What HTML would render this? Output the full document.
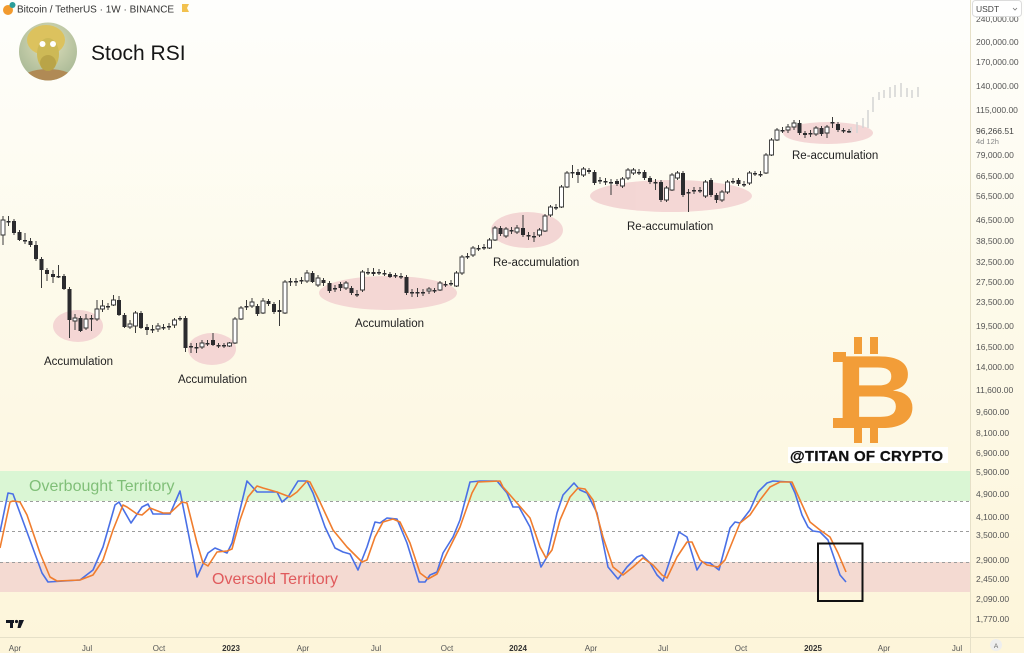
<!DOCTYPE html>
<html>
<head>
<meta charset="utf-8">
<style>
html,body{margin:0;padding:0;background:#fdf9e8;}
body{width:1024px;height:653px;overflow:hidden;}
svg{display:block;}
text{font-family:"Liberation Sans",Arial,sans-serif;}
</style>
</head>
<body>
<svg width="1024" height="653" viewBox="0 0 1024 653" xmlns="http://www.w3.org/2000/svg">
<defs>
<linearGradient id="bg" x1="0" y1="0" x2="0" y2="1">
<stop offset="0" stop-color="#fefefc"/>
<stop offset="0.45" stop-color="#fdfaea"/>
<stop offset="1" stop-color="#fdf5da"/>
</linearGradient>
<clipPath id="av"><circle cx="48" cy="51.5" r="29"/></clipPath>
<radialGradient id="avbg" cx="0.5" cy="0.35" r="0.7">
<stop offset="0" stop-color="#dfe0bc"/>
<stop offset="1" stop-color="#a4b592"/>
</radialGradient>
</defs>

<!-- background -->
<rect x="0" y="0" width="1024" height="653" fill="url(#bg)"/>

<!-- header -->
<circle cx="8" cy="10" r="5" fill="#f29a2e"/>
<circle cx="12.5" cy="5" r="3" fill="#2a9d9a"/>
<text x="17" y="12.5" font-size="10" fill="#333">Bitcoin / TetherUS · 1W · BINANCE</text>
<path d="M182 4h7l-2 4 2 4h-7z" fill="#f2c14e"/>

<!-- avatar -->
<g clip-path="url(#av)">
<rect x="19" y="22" width="58" height="60" fill="url(#avbg)"/>
<ellipse cx="46" cy="40" rx="19" ry="15" fill="#dcc25e"/>
<ellipse cx="48" cy="81" rx="28" ry="12" fill="#b08a55"/>
<ellipse cx="48" cy="54" rx="11" ry="16" fill="#cdb956"/>
<ellipse cx="48" cy="63" rx="8" ry="8" fill="#b9a448"/>
<circle cx="42.5" cy="44" r="3" fill="#ffffff"/>
<circle cx="53" cy="44" r="3" fill="#ffffff"/>
</g>
<text x="91" y="60" font-size="21" fill="#161616">Stoch RSI</text>

<!-- ellipses -->
<g fill="#f2d0d0" opacity="0.85">
<ellipse cx="78" cy="326" rx="25" ry="16"/>
<ellipse cx="212" cy="349" rx="24" ry="16"/>
<ellipse cx="388" cy="293" rx="69" ry="17"/>
<ellipse cx="527" cy="230" rx="36" ry="18"/>
<ellipse cx="671" cy="196" rx="81" ry="16"/>
<ellipse cx="828" cy="133" rx="45" ry="11"/>
</g>

<!-- faded projection -->
<path stroke="#d6d6d6" stroke-width="1.6" fill="none" d="M851 127V133M857 122V133M863 118V128M868 110V128M873 97V112M879 92V100M884 90V98M890 87V98M895 85V97M901 83V97M907 88V97M912 90V98M918 87V97"/>

<!-- wicks -->
<path stroke="#3a3a3a" stroke-width="1" fill="none" d="M3 216V245M8.5 216V226M14 219V235M19.5 230V241M25 233V244M30.5 238V247M36 241V261M41.5 257V288M47 268V281M53 270V283M58.5 265V278M64 274V290M69.5 287V338M75 314V330M80.5 316V332M86 314V330M91.5 315V331M97 300V321M102.5 300V312M108 303V310M113.5 295V306M119 296V316M124.5 313V328M130 320V329M135.5 311V333M141 311V329M147 324V335M152.5 325V333M158 323V332M163.5 324V330M169 323V330M174.5 318V328M180 316V321M185.5 316V352M191 343V353M196.5 343V353M202 340V349M207.5 340V346M213 333V346M218.5 343V348M224 343V348M229.5 342V347M235 317V344M241 306V320M246.5 300V310M252 298V308M257.5 304V316M263 298V314M268.5 299V306M274 302V314M279.5 300V326M285 280V314M290.5 278V286M296 278V286M301.5 277V284M307 270V283M312.5 271V283M318 275V287M323.5 278V286M329.5 281V293M335 285V292M340.5 282V291M346 281V290M351.5 286V295M357 290V297M362.5 270V292M368 268V275M373.5 268V276M379 269V275M384.5 270V276M390 272V278M395.5 273V278M401 273V279M406.5 275V295M412 289V297M417.5 288V297M423 289V296M429 287V294M434.5 288V293M440 281V291M445.5 281V287M451 280V286M456.5 271V287M462 255V275M467.5 253V259M473 246V257M478.5 245V251M484 244V250M489.5 238V249M495 226V241M500.5 226V236M506 227V238M511.5 227V234M517 225V234M523 215V237M528.5 232V240M534 232V242M539.5 228V237M545 214V232M550.5 205V217M556 204V210M561.5 185V208M567 171V188M572.5 165V178M578 169V183M583.5 167V177M589 168V174M594.5 170V185M600 177V184M605.5 178V185M611 179V195M617 179V186M622.5 177V188M628 168V180M633.5 168V175M639 169V175M644.5 170V180M650 176V184M655.5 179V190M661 180V202M666.5 186V202M672 173V191M677.5 171V180M683 171V197M688.5 189V212M694 187V194M700 187V193M705.5 180V198M711 178V197M716.5 193V203M722 190V202M727.5 180V194M733 178V184M738.5 178V186M744 181V187M749.5 171V185M755 171V176M760.5 171V177M766 153V174M771.5 138V156M777 128V141M782.5 127V133M788 124V133M794 120V130M799.5 120V135M805 131V138M810.5 130V137M816 126V136M821.5 126V136M827 125V138M832.5 117V128M838 122V132M843.5 128V133M849 129V133"/>

<!-- white bodies -->
<path fill="#ffffff" stroke="#333" stroke-width="0.9" d="M1 220h4v15h-4zM73 318h4v3h-4zM84 319h4v9h-4zM95 309h4v10h-4zM100.5 306h4v3h-4zM111.5 300h4v5h-4zM128 324h4v3h-4zM133.5 313h4v13h-4zM156 326h4v3h-4zM172.5 320h4v5h-4zM200 343h4v4h-4zM227.5 343h4v3h-4zM233 319h4v24h-4zM239 308h4v11h-4zM250 302h4v4h-4zM261 301h4v12h-4zM283 282h4v31h-4zM305 273h4v8h-4zM316 278h4v7h-4zM344 283h4v5h-4zM360.5 272h4v18h-4zM427 289h4v2h-4zM438 283h4v7h-4zM454.5 273h4v13h-4zM460 257h4v16h-4zM471 248h4v7h-4zM487.5 240h4v8h-4zM493 228h4v12h-4zM504 229h4v7h-4zM515 228h4v4h-4zM537.5 230h4v5h-4zM543 216h4v15h-4zM548.5 207h4v8h-4zM559.5 187h4v20h-4zM565 173h4v14h-4zM581.5 169h4v6h-4zM620.5 179h4v7h-4zM626 170h4v8h-4zM631.5 170h4v3h-4zM664.5 188h4v12h-4zM670 175h4v15h-4zM675.5 173h4v5h-4zM703.5 182h4v14h-4zM720 192h4v8h-4zM725.5 182h4v10h-4zM747.5 173h4v10h-4zM764 155h4v18h-4zM769.5 140h4v15h-4zM775 130h4v10h-4zM786 127h4v3h-4zM792 123h4v4h-4zM814 128h4v6h-4zM825 127h4v6h-4z"/>

<!-- black bodies -->
<path fill="#2b2b2e" d="M12 221h4v12h-4zM17.5 232h4v8h-4zM28.5 241h4v4h-4zM34 245h4v14h-4zM39.5 259h4v11h-4zM45 270h4v4h-4zM51 274h4v3h-4zM62 276h4v13h-4zM67.5 289h4v31h-4zM78.5 318h4v13h-4zM117 300h4v15h-4zM122.5 315h4v12h-4zM139 313h4v15h-4zM145 327h4v3h-4zM183.5 318h4v30h-4zM211 340h4v5h-4zM255.5 306h4v8h-4zM266.5 301h4v3h-4zM272 304h4v8h-4zM277.5 310h4v2h-4zM310.5 273h4v9h-4zM321.5 280h4v3h-4zM327.5 283h4v8h-4zM338.5 284h4v4h-4zM349.5 288h4v5h-4zM371.5 272h4v2h-4zM388 274h4v3h-4zM404.5 277h4v16h-4zM498.5 228h4v6h-4zM521 228h4v7h-4zM576 172h4v3h-4zM587 170h4v2h-4zM592.5 172h4v11h-4zM615 181h4v3h-4zM642.5 172h4v6h-4zM648 178h4v4h-4zM659 182h4v18h-4zM681 173h4v22h-4zM709 180h4v15h-4zM714.5 195h4v5h-4zM736.5 180h4v4h-4zM797.5 123h4v10h-4zM803 133h4v2h-4zM819.5 128h4v6h-4zM836 124h4v6h-4z"/>

<!-- crosses -->
<path fill="#2b2b2e" d="M6.5 221h4v1.5h-4zM23 240h4v1.5h-4zM56.5 276h4v1.5h-4zM89.5 318h4v1.5h-4zM106 306h4v1.5h-4zM150.5 329h4v1.5h-4zM161.5 327h4v1.5h-4zM167 326h4v1.5h-4zM178 318h4v1.5h-4zM189 346h4v1.5h-4zM194.5 347h4v1.5h-4zM205.5 343h4v1.5h-4zM216.5 345h4v1.5h-4zM222 345h4v1.5h-4zM244.5 306h4v1.5h-4zM288.5 281h4v1.5h-4zM294 281h4v1.5h-4zM299.5 280h4v1.5h-4zM333 288h4v1.5h-4zM355 294h4v1.5h-4zM366 272h4v1.5h-4zM377 272h4v1.5h-4zM382.5 273h4v1.5h-4zM393.5 275h4v1.5h-4zM399 276h4v1.5h-4zM410 292h4v1.5h-4zM415.5 292h4v1.5h-4zM421 292h4v1.5h-4zM432.5 290h4v1.5h-4zM443.5 284h4v1.5h-4zM449 283h4v1.5h-4zM465.5 256h4v1.5h-4zM476.5 248h4v1.5h-4zM482 247h4v1.5h-4zM509.5 230h4v1.5h-4zM526.5 235h4v1.5h-4zM532 236h4v1.5h-4zM554 207h4v1.5h-4zM570.5 172h4v1.5h-4zM598 180h4v1.5h-4zM603.5 181h4v1.5h-4zM609 182h4v1.5h-4zM637 172h4v1.5h-4zM653.5 182h4v1.5h-4zM686.5 192h4v1.5h-4zM692 190h4v1.5h-4zM698 190h4v1.5h-4zM731 181h4v1.5h-4zM742 184h4v1.5h-4zM753 173h4v1.5h-4zM758.5 174h4v1.5h-4zM780.5 130h4v1.5h-4zM808.5 133h4v1.5h-4zM830.5 122h4v1.5h-4zM841.5 130h4v1.5h-4zM847 131h4v1.5h-4z"/>

<!-- annotation labels -->
<g font-size="11.5" fill="#222">
<text x="44" y="365">Accumulation</text>
<text x="178" y="383">Accumulation</text>
<text x="355" y="327">Accumulation</text>
<text x="493" y="266">Re-accumulation</text>
<text x="627" y="230">Re-accumulation</text>
<text x="792" y="159">Re-accumulation</text>
</g>

<!-- Bitcoin logo -->
<g fill="#f29d38">
<rect x="854" y="337" width="8" height="17"/>
<rect x="870" y="337" width="8" height="17"/>
<rect x="854" y="426" width="8" height="17"/>
<rect x="870" y="426" width="8" height="17"/>
<rect x="833" y="352" width="13" height="10"/>
<rect x="833" y="418" width="13" height="10"/>
<text transform="translate(835,428) scale(1.1,1)" x="0" y="0" font-size="104" font-weight="bold" fill="#f29d38">B</text>
</g>
<rect x="788" y="447" width="160" height="16" fill="#ffffff"/>
<text x="790" y="461" font-family="'Liberation Serif',serif" font-size="15" font-weight="bold" fill="#111" stroke="#111" stroke-width="0.3" letter-spacing="0.3">@TITAN OF CRYPTO</text>

<!-- Stoch pane bands -->
<rect x="0" y="471" width="970" height="30" fill="#daf6d4"/>
<rect x="0" y="501" width="970" height="61" fill="#ffffff"/>
<rect x="0" y="562" width="970" height="30" fill="#f4dad2"/>
<g stroke="#9c9c9c" stroke-width="1" stroke-dasharray="3 3">
<line x1="0" y1="501.5" x2="970" y2="501.5"/>
<line x1="0" y1="531.5" x2="970" y2="531.5"/>
<line x1="0" y1="562.5" x2="970" y2="562.5"/>
</g>
<text x="29" y="491" font-size="16" fill="#80bf78">Overbought Territory</text>
<text x="212" y="584" font-size="16" fill="#e05a5c">Oversold Territory</text>

<!-- Stoch lines -->
<polyline fill="none" stroke="#4a70e6" stroke-width="1.6" stroke-linejoin="round" points="0,532 8,493 13,494 27,532 42,573 48,582 80,580 93,570 103,547 115,505 119,502 131,523 142,507 148,504 153,514 170,514 180,491 197,577 208,553 215,548 227,553 232,543 247,481 257,492 277,492 282,502 288,497 298,481 307,481 313,493 325,527 335,548 343,552 350,554 358,570 367,547 375,522 380,523 387,518 397,519 407,543 419,582 425,582 430,575 437,572 443,553 453,537 460,520 470,482 480,481 497,481 507,493 513,507 519,507 530,527 541,567 547,557 557,513 563,495 574,483 580,490 587,493 597,513 608,567 618,579 627,567 637,557 642,555 650,563 657,575 663,581 670,560 679,532 687,537 697,570 702,562 710,563 719,570 730,528 735,522 740,523 750,510 758,492 767,483 773,481 790,482 795,493 802,515 808,527 813,531 820,532 828,540 840,575 846,582"/>
<polyline fill="none" stroke="#f07d2e" stroke-width="1.6" stroke-linejoin="round" points="0,548 10,502 13,501 20,502 27,515 40,553 50,577 57,581 80,580 93,575 103,560 113,530 123,505 127,507 137,514 142,515 150,508 163,513 170,513 182,502 187,503 197,543 203,563 208,566 217,552 227,551 232,549 240,520 248,497 257,486 263,488 277,492 290,497 297,492 307,481 310,482 320,502 333,530 347,547 357,557 362,562 367,560 375,537 383,522 393,519 400,522 410,543 420,573 428,579 437,574 447,553 460,527 472,493 478,482 500,481 503,487 517,503 530,518 540,547 546,558 552,550 560,520 570,497 578,488 585,489 593,500 603,537 613,567 623,575 633,567 643,558 653,565 662,575 667,578 677,557 687,542 692,542 700,560 707,565 718,567 725,560 740,523 750,515 760,500 770,487 780,482 792,482 800,500 810,522 820,530 830,537 838,553 846,572"/>
<rect x="818" y="543.5" width="44.5" height="57.5" fill="none" stroke="#111" stroke-width="2"/>

<!-- TradingView logo -->
<g fill="#131722">
<rect x="6" y="620" width="8" height="3"/>
<rect x="10" y="620" width="3" height="8"/>
<circle cx="16.5" cy="621.5" r="1.6"/>
<path d="M19 620h5l-3.5 8h-3z"/>
</g>

<!-- time axis -->
<line x1="0" y1="637.5" x2="1024" y2="637.5" stroke="#e6e0c8" stroke-width="1"/>
<g font-size="8" fill="#555" text-anchor="middle">
<text x="15" y="651">Apr</text>
<text x="87" y="651">Jul</text>
<text x="159" y="651">Oct</text>
<text x="231" y="651" font-weight="bold" fill="#333">2023</text>
<text x="303" y="651">Apr</text>
<text x="376" y="651">Jul</text>
<text x="447" y="651">Oct</text>
<text x="518" y="651" font-weight="bold" fill="#333">2024</text>
<text x="591" y="651">Apr</text>
<text x="663" y="651">Jul</text>
<text x="741" y="651">Oct</text>
<text x="813" y="651" font-weight="bold" fill="#333">2025</text>
<text x="884" y="651">Apr</text>
<text x="957" y="651">Jul</text>
</g>

<!-- price axis -->
<line x1="970.5" y1="0" x2="970.5" y2="653" stroke="#e6e0c8" stroke-width="1"/>
<g font-size="8.5" fill="#555">
<text x="976" y="22">240,000.00</text>
<text x="976" y="45">200,000.00</text>
<text x="976" y="65">170,000.00</text>
<text x="976" y="89">140,000.00</text>
<text x="976" y="113">115,000.00</text>
<text x="976" y="134" fill="#444">96,266.51</text>
<text x="976" y="144" font-size="7.5" fill="#888">4d 12h</text>
<text x="976" y="158">79,000.00</text>
<text x="976" y="179">66,500.00</text>
<text x="976" y="199">56,500.00</text>
<text x="976" y="223">46,500.00</text>
<text x="976" y="244">38,500.00</text>
<text x="976" y="265">32,500.00</text>
<text x="976" y="285">27,500.00</text>
<text x="976" y="305">23,500.00</text>
<text x="976" y="329">19,500.00</text>
<text x="976" y="350">16,500.00</text>
<text x="976" y="370">14,000.00</text>
<text x="976" y="393">11,600.00</text>
<text x="976" y="415">9,600.00</text>
<text x="976" y="436">8,100.00</text>
<text x="976" y="456">6,900.00</text>
<text x="976" y="475">5,900.00</text>
<text x="976" y="497">4,900.00</text>
<text x="976" y="520">4,100.00</text>
<text x="976" y="538">3,500.00</text>
<text x="976" y="563">2,900.00</text>
<text x="976" y="582">2,450.00</text>
<text x="976" y="602">2,090.00</text>
<text x="976" y="622">1,770.00</text>
</g>
<rect x="972.5" y="0.5" width="49" height="16" rx="3" fill="#ffffff" stroke="#dcdcdc"/>
<text x="976" y="12" font-size="8.5" fill="#444">USDT</text>
<path d="M1013 8l2 2 2-2" fill="none" stroke="#777" stroke-width="0.8"/>
<circle cx="996" cy="645" r="6" fill="#eeeeee"/>
<text x="996" y="648" font-size="6.5" fill="#666" text-anchor="middle">A</text>
</svg>
</body>
</html>
